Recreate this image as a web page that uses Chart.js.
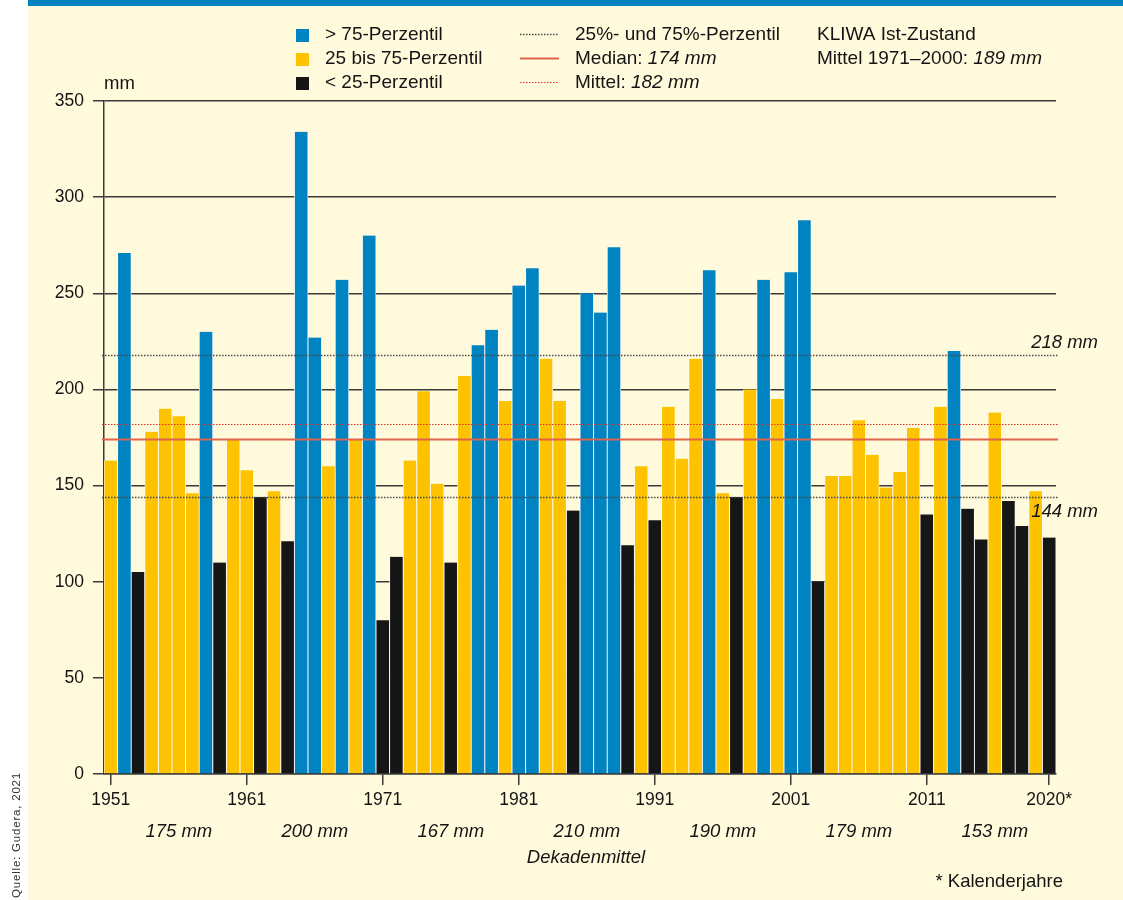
<!DOCTYPE html>
<html lang="de">
<head>
<meta charset="utf-8">
<title>Niederschlag 1951–2020</title>
<script src="https://cdn.jsdelivr.net/npm/chart.js@4.4.1/dist/chart.umd.min.js"></script>
<style>
  html, body { margin: 0; padding: 0; background: #ffffff; }
  #wrap { width: 1123px; height: 900px; position: relative; }
</style>
</head>
<body>
<div id="wrap"><canvas id="chart" width="1123" height="900"></canvas></div>
<script>
// Jahre (hydrologische Jahre, 2020 = Kalenderjahr)
const years = [
  1951, 1952, 1953, 1954, 1955, 1956, 1957, 1958, 1959, 1960,
  1961, 1962, 1963, 1964, 1965, 1966, 1967, 1968, 1969, 1970,
  1971, 1972, 1973, 1974, 1975, 1976, 1977, 1978, 1979, 1980,
  1981, 1982, 1983, 1984, 1985, 1986, 1987, 1988, 1989, 1990,
  1991, 1992, 1993, 1994, 1995, 1996, 1997, 1998, 1999, 2000,
  2001, 2002, 2003, 2004, 2005, 2006, 2007, 2008, 2009, 2010,
  2011, 2012, 2013, 2014, 2015, 2016, 2017, 2018, 2019, 2020
];

// Niederschlag in mm
const precip = [
  163, 271, 105, 178, 190, 186, 146, 230, 110, 174,
  158, 144, 147, 121, 334, 227, 160, 257, 174, 280,
  80, 113, 163, 199, 151, 110, 207, 223, 231, 194,
  254, 263, 216, 194, 137, 250, 240, 274, 119, 160,
  132, 191, 164, 216, 262, 146, 144, 200, 257, 195,
  261, 288, 100, 155, 155, 184, 166, 149, 157, 180,
  135, 191, 220, 138, 122, 188, 142, 129, 147, 123
];

// Klasse: h = > 75-Perzentil, m = 25 bis 75-Perzentil, l = < 25-Perzentil
const klasse = [
  'm', 'h', 'l', 'm', 'm', 'm', 'm', 'h', 'l', 'm',
  'm', 'l', 'm', 'l', 'h', 'h', 'm', 'h', 'm', 'h',
  'l', 'l', 'm', 'm', 'm', 'l', 'm', 'h', 'h', 'm',
  'h', 'h', 'm', 'm', 'l', 'h', 'h', 'h', 'l', 'm',
  'l', 'm', 'm', 'm', 'h', 'm', 'l', 'm', 'h', 'm',
  'h', 'h', 'l', 'm', 'm', 'm', 'm', 'm', 'm', 'm',
  'l', 'm', 'h', 'l', 'l', 'm', 'l', 'l', 'm', 'l'
];

const yTicks = [0, 50, 100, 150, 200, 250, 300, 350];
const dekadenMittel = ['175 mm', '200 mm', '167 mm', '210 mm', '190 mm', '179 mm', '153 mm'];

const perzentil25 = 144;
const perzentil75 = 218;
const median = 174;
const mittel = 182;

const farben = { h: '#0083c1', m: '#fdc300', l: '#161616' };
const cream = '#fffadc';
const textCol = '#141414';
const gridCol = '#3a3a3a';
const fontFam = '"Liberation Sans", Arial, Helvetica, sans-serif';

const backgroundPlugin = {
  id: 'background',
  beforeDraw(chart) {
    const c = chart.ctx;
    c.save();
    c.fillStyle = '#ffffff';
    c.fillRect(0, 0, chart.width, chart.height);
    c.fillStyle = cream;
    c.fillRect(28, 0, chart.width - 28, chart.height);
    c.fillStyle = '#0083c1';
    c.fillRect(28, 0, chart.width - 28, 6);
    c.restore();
  }
};

const refLinesPlugin = {
  id: 'refLines',
  afterDatasetsDraw(chart) {
    const c = chart.ctx;
    const y = chart.scales.y;
    const left = chart.chartArea.left - 2;
    const right = chart.chartArea.right + 2;

    function hline(val, color, width, dash) {
      const py = Math.round(y.getPixelForValue(val)) + 0.5;
      c.save();
      c.strokeStyle = color;
      c.lineWidth = width;
      c.setLineDash(dash);
      c.beginPath();
      c.moveTo(left, py);
      c.lineTo(right, py);
      c.stroke();
      c.restore();
    }

    hline(perzentil75, '#4a4a4a', 1.5, [1.5, 1.5]);
    hline(perzentil25, '#4a4a4a', 1.5, [1.5, 1.5]);
    hline(mittel, '#e2312a', 1.2, [1.5, 1.5]);
    hline(median, '#e0644c', 2, []);

    c.save();
    c.fillStyle = textCol;
    c.font = 'italic 18.5px ' + fontFam;
    c.textAlign = 'right';
    c.textBaseline = 'middle';
    c.fillText(perzentil75 + ' mm', 1098, y.getPixelForValue(perzentil75) - 12);
    c.fillText(perzentil25 + ' mm', 1098, y.getPixelForValue(perzentil25) + 15);
    c.restore();
  }
};

const textPlugin = {
  id: 'texts',
  afterDraw(chart) {
    const c = chart.ctx;
    const x = chart.scales.x;
    c.save();
    c.fillStyle = textCol;

    // Einheit
    c.font = '18.5px ' + fontFam;
    c.textAlign = 'left';
    c.textBaseline = 'alphabetic';
    c.fillText('mm', 104, 89);

    // Legende Balken
    const legBars = [
      { k: 'h', t: '> 75-Perzentil' },
      { k: 'm', t: '25 bis 75-Perzentil' },
      { k: 'l', t: '< 25-Perzentil' }
    ];
    c.textBaseline = 'middle';
    c.font = '19px ' + fontFam;
    legBars.forEach((item, i) => {
      const cy = 35 + i * 24;
      c.fillStyle = farben[item.k];
      c.fillRect(296, cy - 6, 13, 13);
      c.fillStyle = textCol;
      c.fillText(item.t, 325, cy);
    });

    // Legende Linien
    const legLines = [
      { col: '#4a4a4a', w: 1.5, dash: [1.5, 1.5], parts: [['25%- und 75%-Perzentil', false]] },
      { col: '#e0644c', w: 2, dash: [], parts: [['Median: ', false], ['174 mm', true]] },
      { col: '#e2312a', w: 1.2, dash: [1.5, 1.5], parts: [['Mittel: ', false], ['182 mm', true]] }
    ];
    legLines.forEach((item, i) => {
      const cy = 35 + i * 24;
      c.save();
      c.strokeStyle = item.col;
      c.lineWidth = item.w;
      c.setLineDash(item.dash);
      c.beginPath();
      c.moveTo(520, cy - 0.5);
      c.lineTo(559, cy - 0.5);
      c.stroke();
      c.restore();
      let tx = 575;
      item.parts.forEach(p => {
        c.font = (p[1] ? 'italic ' : '') + '19px ' + fontFam;
        c.fillText(p[0], tx, cy);
        tx += c.measureText(p[0]).width;
      });
    });

    // KLIWA
    c.font = '19px ' + fontFam;
    c.fillText('KLIWA Ist-Zustand', 817, 35);
    const pre = 'Mittel 1971–2000: ';
    c.fillText(pre, 817, 59);
    const w = c.measureText(pre).width;
    c.font = 'italic 19px ' + fontFam;
    c.fillText('189 mm', 817 + w, 59);

    // Dekadenmittel
    c.textAlign = 'center';
    c.textBaseline = 'alphabetic';
    c.font = 'italic 18.5px ' + fontFam;
    dekadenMittel.forEach((t, i) => {
      c.fillText(t, x.getPixelForValue(i * 10 + 5), 837);
    });
    c.fillText('Dekadenmittel', 586, 863);

    c.font = '18.5px ' + fontFam;
    c.textAlign = 'right';
    c.fillText('* Kalenderjahre', 1063, 887);

    // Quelle
    c.save();
    c.translate(20, 772);
    c.rotate(-Math.PI / 2);
    c.font = '11.5px ' + fontFam;
    c.fillStyle = '#333333';
    c.letterSpacing = '0.8px';
    c.textAlign = 'right';
    c.textBaseline = 'alphabetic';
    c.fillText('Quelle: Gudera, 2021', 0, 0);
    c.restore();

    c.restore();
  }
};

new Chart(document.getElementById('chart'), {
  type: 'bar',
  data: {
    labels: years,
    datasets: [{
      data: precip,
      backgroundColor: klasse.map(k => farben[k]),
      borderColor: '#ffffff',
      borderWidth: { left: 0.8, right: 0.8, top: 0, bottom: 0 },
      barPercentage: 1,
      categoryPercentage: 1
    }]
  },
  options: {
    responsive: false,
    animation: false,
    events: [],
    layout: { padding: { top: 101, right: 67, left: 0, bottom: 0 } },
    plugins: {
      legend: { display: false },
      tooltip: { enabled: false }
    },
    scales: {
      x: {
        offset: true,
        grid: {
          offset: false,
          drawOnChartArea: false,
          tickLength: 11,
          lineWidth: 1.5,
          color: ctx => (ctx.index % 10 === 0 || ctx.index === years.length - 1) ? gridCol : 'rgba(0,0,0,0)'
        },
        border: { color: gridCol, width: 1.5 },
        ticks: {
          autoSkip: false,
          maxRotation: 0,
          minRotation: 0,
          padding: 5,
          color: textCol,
          font: { family: fontFam, size: 17.5 },
          callback: (v, i) => {
            if (i === years.length - 1) return years[i] + '*';
            return i % 10 === 0 ? String(years[i]) : '';
          }
        },
        afterFit: s => { s.height = 126; }
      },
      y: {
        min: 0,
        max: 350,
        afterBuildTicks: s => { s.ticks = yTicks.map(v => ({ value: v })); },
        grid: { color: gridCol, lineWidth: 1.5, tickLength: 11 },
        border: { color: gridCol, width: 1.5 },
        ticks: {
          padding: 9,
          color: textCol,
          font: { family: fontFam, size: 17.5 }
        },
        afterFit: s => { s.width = 104; }
      }
    }
  },
  plugins: [backgroundPlugin, refLinesPlugin, textPlugin]
});
</script>
</body>
</html>
